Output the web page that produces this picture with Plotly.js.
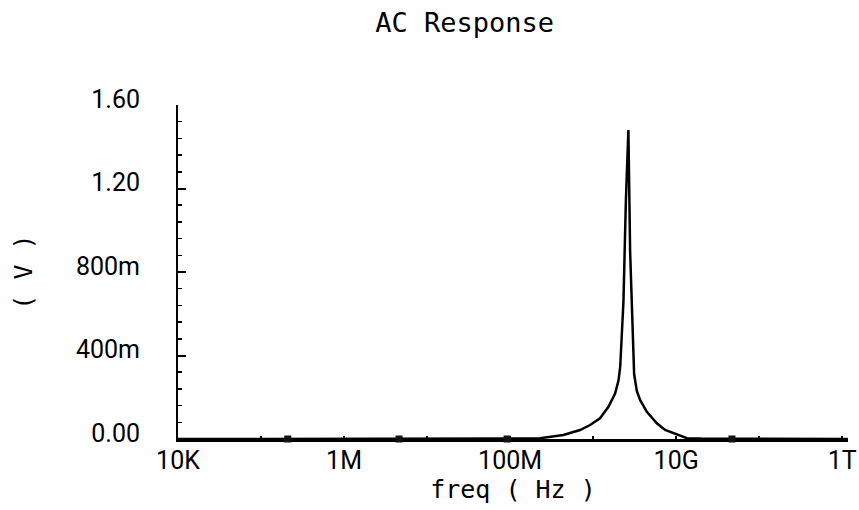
<!DOCTYPE html>
<html>
<head>
<meta charset="utf-8">
<script src="https://cdn.plot.ly/plotly-3.0.1.min.js"></script>
<style>html,body{margin:0;padding:0;background:#fff;}#chart{width:859px;height:510px;}</style>
</head>
<body>
<div id="chart"></div>
<script>
// AC response
const freq = [1e4, 1e6, 1e8, 1.6e8, 2.3e8, 3.2e8, 4.38e8, 6.97e8, 9.2e8, 1.21e9, 1.53e9, 1.84e9, 2.02e9, 2.12e9, 2.22e9, 2.32e9, 2.48e9, 2.55e9, 2.66e9, 2.79e9, 2.93e9, 3.12e9, 3.36e9, 3.69e9, 4.44e9, 5.85e9, 7.37e9, 9.27e9, 1.35e10, 2.0e10, 1e11, 1.17e12];
const volts = [0, 0, 0, 0.002, 0.004, 0.01, 0.019, 0.043, 0.067, 0.099, 0.154, 0.218, 0.28, 0.345, 0.50, 0.66, 1.14, 1.30, 1.48, 0.90, 0.585, 0.31, 0.23, 0.186, 0.13, 0.075, 0.043, 0.027, 0.004, 0.002, 0, 0];

// plot symbols sitting on the trace near zero
const markerFreq = [2.1e5, 4.6e6, 9.2e7, 4.7e10];
const markerVolts = [0, 0, 0, 0];

const xTickVals = [1e4, 1e5, 1e6, 1e7, 1e8, 1e9, 1e10, 1e11, 1e12];
const xTickText = ['10K', '', '1M', '', '100M', '', '10G', '', '1T'];
const yTickVals = [0, 0.4, 0.8, 1.2, 1.6];
const yTickText = ['0.00', '400m', '800m', '1.20', '1.60'];

const traces = [
  {x: freq, y: volts, type: 'scatter', mode: 'lines',
   line: {color: '#000', width: 2.5}, hoverinfo: 'skip', cliponaxis: false},
  {x: markerFreq, y: markerVolts, type: 'scatter', mode: 'markers',
   marker: {symbol: 'square', size: 7, color: '#111'}, hoverinfo: 'skip', cliponaxis: false}
];

const layout = {
  width: 859, height: 510,
  paper_bgcolor: '#fff', plot_bgcolor: '#fff',
  showlegend: false,
  margin: {l: 178, r: 11, t: 105, b: 71},
  title: {text: 'AC Response', x: 0.541, xanchor: 'center', xref: 'container', y: 0.955, yanchor: 'middle',
          font: {family: 'DejaVu Sans Mono', size: 27, color: '#000'}},
  xaxis: {
    type: 'log', range: [4, 12.07],
    showgrid: false, zeroline: false, layer: 'below traces',
    showline: true, linecolor: '#000', linewidth: 3,
    tickmode: 'array', tickvals: xTickVals, ticktext: xTickText,
    ticks: 'inside', ticklen: 3, tickwidth: 1.5, tickcolor: '#000',
    ticklabelstandoff: -3, ticklabelshift: 0, ticklabeloverflow: 'allow',
    tickfont: {family: 'Roboto', size: 25, color: '#000'},
    title: {text: 'freq ( Hz )', standoff: 4,
            font: {family: 'DejaVu Sans Mono', size: 25, color: '#000'}}
  },
  yaxis: {
    range: [0, 1.6],
    showgrid: false, zeroline: false,
    showline: true, linecolor: '#000', linewidth: 2,
    tickmode: 'array', tickvals: yTickVals, ticktext: yTickText,
    ticks: 'inside', ticklen: 8, tickwidth: 2, tickcolor: '#000',
    minor: {dtick: 0.08, ticks: 'inside', ticklen: 4, tickwidth: 1.5, tickcolor: '#000', showgrid: false},
    ticklabelstandoff: 31, ticklabelshift: -6,
    tickfont: {family: 'Roboto', size: 25, color: '#000'},
    title: {text: '( V )', standoff: 36,
            font: {family: 'DejaVu Sans Mono', size: 25, color: '#000'}}
  }
};

Plotly.newPlot('chart', traces, layout, {staticPlot: true, displayModeBar: false});
</script>
</body>
</html>
